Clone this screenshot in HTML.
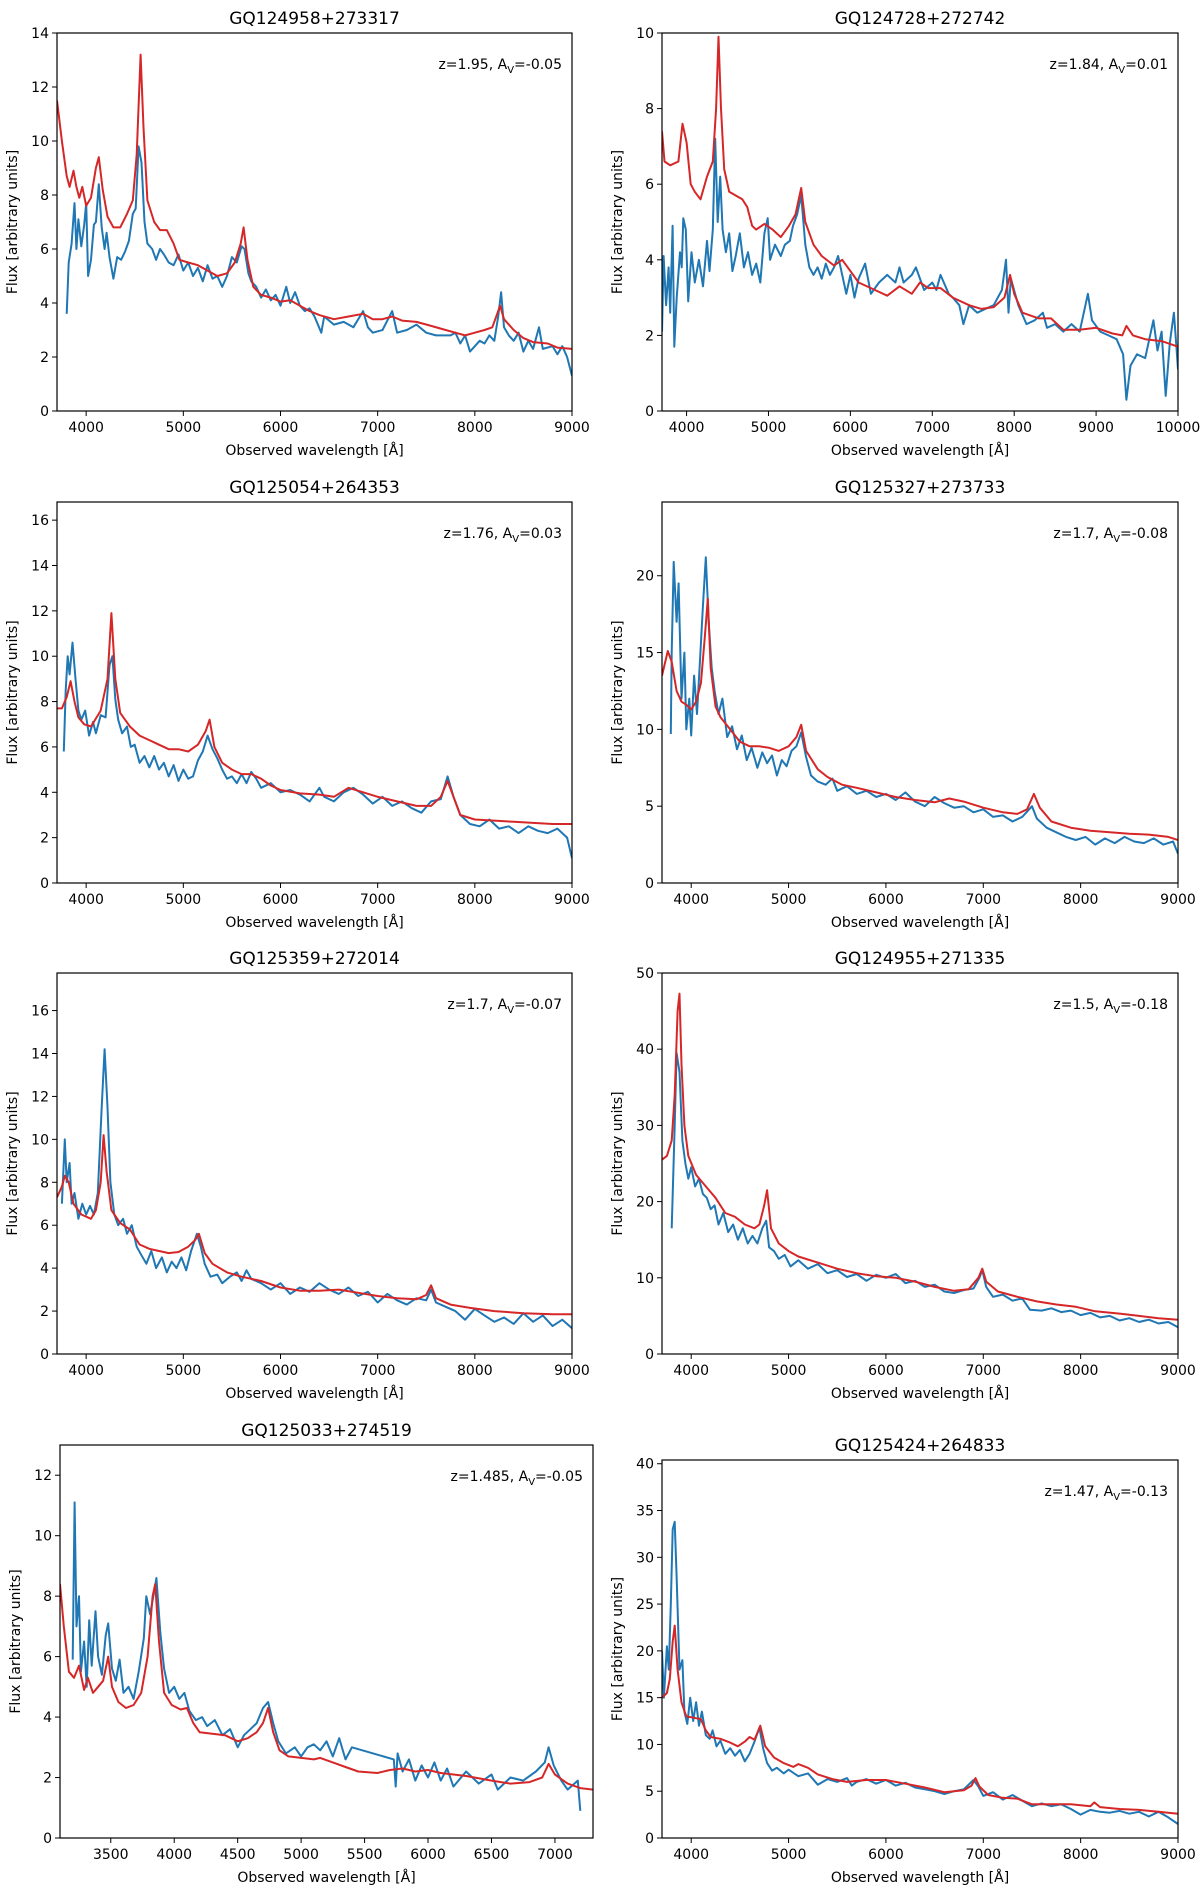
<!DOCTYPE html>
<html><head><meta charset="utf-8"><title>Quasar spectra</title>
<style>
html,body{margin:0;padding:0;background:#fff;}
svg{display:block;font-family:"DejaVu Sans","Liberation Sans",sans-serif;}
</style></head>
<body>
<svg id="fig" width="1200" height="1895" viewBox="0 0 1200 1895" xmlns="http://www.w3.org/2000/svg"></svg>
<script>
// ---- data (wavelength, flux) ----
const p1Blue=[[3800,3.6],[3820,5.5],[3850,6.2],[3880,7.7],[3900,6.0],[3920,7.1],[3950,6.1],[3980,6.9],[4000,7.7],[4020,5.0],[4050,5.6],[4080,6.9],[4100,7.0],[4130,8.4],[4160,6.8],[4190,6.0],[4210,6.6],[4240,5.7],[4280,4.9],[4320,5.7],[4360,5.6],[4400,5.9],[4440,6.3],[4480,7.3],[4510,7.5],[4540,9.8],[4570,9.2],[4600,7.0],[4630,6.2],[4680,6.0],[4720,5.6],[4760,6.0],[4800,5.8],[4850,5.5],[4900,5.4],[4950,5.8],[5000,5.2],[5050,5.5],[5100,5.0],[5150,5.3],[5200,4.8],[5250,5.4],[5300,4.9],[5350,5.0],[5400,4.6],[5450,5.0],[5500,5.7],[5550,5.5],[5600,6.1],[5630,6.0],[5670,5.1],[5700,4.8],[5750,4.6],[5800,4.2],[5850,4.5],[5900,4.1],[5950,4.3],[6000,3.9],[6060,4.6],[6100,4.0],[6150,4.4],[6200,3.9],[6250,3.7],[6300,3.8],[6350,3.5],[6420,2.9],[6450,3.5],[6550,3.2],[6650,3.3],[6750,3.1],[6850,3.7],[6900,3.1],[6950,2.9],[7050,3.0],[7150,3.7],[7200,2.9],[7300,3.0],[7400,3.2],[7500,2.9],[7600,2.8],[7750,2.8],[7800,2.9],[7850,2.5],[7900,2.8],[7950,2.2],[8050,2.6],[8100,2.5],[8150,2.8],[8200,2.6],[8240,3.5],[8270,4.4],[8300,3.1],[8350,2.8],[8400,2.6],[8450,2.9],[8500,2.2],[8550,2.6],[8600,2.3],[8660,3.1],[8700,2.3],[8800,2.4],[8850,2.1],[8900,2.4],[8950,2.0],[9000,1.3]];
const p1Red=[[3700,11.5],[3750,10],[3800,8.7],[3830,8.3],[3870,8.9],[3900,8.3],[3930,7.9],[3960,8.3],[4000,7.6],[4050,7.9],[4100,9.0],[4130,9.4],[4170,8.2],[4220,7.2],[4280,6.8],[4350,6.8],[4420,7.3],[4480,7.8],[4520,9.5],[4560,13.2],[4590,10.5],[4630,7.8],[4700,7.0],[4760,6.7],[4830,6.7],[4900,6.2],[4960,5.6],[5050,5.5],[5150,5.4],[5250,5.2],[5350,5.0],[5450,5.1],[5530,5.5],[5590,6.2],[5620,6.8],[5660,5.6],[5720,4.6],[5800,4.3],[5900,4.2],[6000,4.05],[6100,4.1],[6200,3.9],[6300,3.7],[6400,3.55],[6550,3.4],[6700,3.5],[6850,3.6],[6950,3.4],[7050,3.4],[7150,3.5],[7250,3.35],[7400,3.3],[7550,3.15],[7700,3.0],[7800,2.9],[7900,2.8],[8000,2.9],[8100,3.0],[8180,3.1],[8230,3.6],[8260,3.9],[8300,3.4],[8400,3.0],[8500,2.7],[8600,2.55],[8750,2.5],[8850,2.35],[9000,2.3]];
const p2Blue=[[3700,2.1],[3720,4.1],[3750,2.8],[3780,3.8],[3800,2.6],[3830,4.9],[3850,1.7],[3880,3.0],[3920,4.2],[3940,3.8],[3960,5.1],[3990,4.8],[4020,2.9],[4060,4.2],[4100,3.4],[4150,4.0],[4200,3.3],[4250,4.5],[4280,3.7],[4320,4.8],[4350,7.2],[4380,5.0],[4410,6.2],[4440,4.8],[4480,4.2],[4520,4.7],[4560,3.7],[4600,4.1],[4650,4.7],[4700,3.8],[4750,4.2],[4800,3.6],[4850,3.9],[4900,3.4],[4950,4.7],[4990,5.1],[5020,4.0],[5080,4.4],[5150,4.1],[5200,4.4],[5260,4.5],[5300,4.9],[5350,5.2],[5400,5.7],[5450,4.4],[5500,3.8],[5550,3.6],[5600,3.8],[5650,3.5],[5700,3.9],[5750,3.6],[5800,3.8],[5850,4.1],[5900,3.6],[5950,3.1],[6000,3.6],[6050,3.0],[6100,3.5],[6180,3.9],[6250,3.1],[6350,3.4],[6450,3.6],[6550,3.4],[6600,3.8],[6650,3.4],[6750,3.6],[6800,3.8],[6900,3.2],[7000,3.4],[7050,3.2],[7100,3.6],[7200,3.1],[7250,3.0],[7330,2.8],[7380,2.3],[7450,2.8],[7550,2.6],[7650,2.7],[7750,2.8],[7850,3.2],[7900,4.0],[7930,2.6],[7960,3.5],[8050,2.8],[8150,2.3],[8250,2.4],[8350,2.6],[8400,2.2],[8500,2.3],[8600,2.1],[8700,2.3],[8800,2.1],[8850,2.6],[8900,3.1],[8950,2.4],[9050,2.1],[9150,2.0],[9250,1.9],[9330,1.5],[9370,0.3],[9420,1.2],[9500,1.5],[9600,1.4],[9700,2.4],[9750,1.6],[9800,2.1],[9850,0.4],[9900,1.8],[9950,2.6],[9980,1.7],[10000,1.1]];
const p2Red=[[3700,7.4],[3730,6.6],[3800,6.5],[3900,6.6],[3950,7.6],[4000,7.1],[4050,6.0],[4100,5.8],[4170,5.6],[4250,6.2],[4320,6.6],[4360,8.0],[4390,9.9],[4420,8.0],[4460,6.4],[4520,5.8],[4600,5.7],[4680,5.6],[4740,5.4],[4800,4.9],[4850,4.8],[4950,4.95],[5050,4.8],[5150,4.6],[5250,4.9],[5330,5.2],[5400,5.9],[5450,5.0],[5550,4.4],[5650,4.1],[5800,3.85],[5900,4.0],[6000,3.7],[6100,3.4],[6300,3.2],[6450,3.05],[6600,3.3],[6750,3.1],[6850,3.4],[6950,3.25],[7100,3.25],[7250,3.0],[7450,2.8],[7600,2.7],[7750,2.75],[7880,3.0],[7950,3.6],[8000,3.1],[8100,2.6],[8300,2.45],[8450,2.45],[8600,2.15],[8800,2.15],[9000,2.2],[9200,2.05],[9320,2.0],[9370,2.25],[9450,2.0],[9600,1.9],[9800,1.85],[10000,1.7]];
const p3Blue=[[3770,5.8],[3790,8.5],[3810,10.0],[3830,9.2],[3860,10.6],[3890,9.0],[3920,7.6],[3950,7.2],[3990,7.6],[4030,6.5],[4070,7.1],[4100,6.6],[4150,7.4],[4200,7.3],[4240,9.6],[4270,10.0],[4300,8.1],[4330,7.2],[4370,6.6],[4420,6.9],[4460,6.0],[4500,6.1],[4550,5.3],[4600,5.6],[4650,5.1],[4700,5.6],[4750,5.0],[4800,5.3],[4850,4.7],[4900,5.2],[4950,4.5],[5000,5.0],[5050,4.6],[5100,4.7],[5150,5.4],[5200,5.8],[5250,6.5],[5300,5.9],[5350,5.5],[5400,5.0],[5450,4.6],[5500,4.7],[5550,4.4],[5600,4.8],[5650,4.4],[5700,4.9],[5750,4.6],[5800,4.2],[5900,4.4],[6000,4.0],[6100,4.1],[6200,3.9],[6300,3.6],[6400,4.2],[6450,3.8],[6550,3.6],[6650,4.0],[6750,4.2],[6850,3.9],[6950,3.5],[7050,3.8],[7150,3.4],[7250,3.6],[7350,3.3],[7450,3.1],[7550,3.6],[7650,3.7],[7720,4.7],[7780,3.8],[7850,3.0],[7950,2.6],[8050,2.5],[8150,2.8],[8250,2.4],[8350,2.5],[8450,2.2],[8550,2.5],[8650,2.3],[8750,2.2],[8850,2.4],[8950,2.0],[9000,1.1]];
const p3Red=[[3700,7.7],[3750,7.7],[3800,8.2],[3840,8.9],[3880,8.0],[3920,7.3],[3980,7.0],[4050,6.9],[4150,7.6],[4220,9.0],[4260,11.9],[4300,9.0],[4350,7.5],[4450,6.9],[4550,6.5],[4650,6.3],[4750,6.1],[4850,5.9],[4950,5.9],[5050,5.8],[5150,6.1],[5230,6.7],[5270,7.2],[5320,6.0],[5400,5.3],[5500,5.0],[5600,4.8],[5700,4.8],[5800,4.6],[5900,4.3],[6000,4.1],[6200,3.95],[6400,3.9],[6550,3.8],[6700,4.2],[6850,4.0],[7000,3.8],[7200,3.6],[7400,3.4],[7550,3.4],[7650,3.8],[7720,4.5],[7780,3.8],[7850,3.0],[8000,2.8],[8200,2.75],[8400,2.7],[8600,2.65],[8800,2.6],[9000,2.6]];
const p4Blue=[[3790,9.7],[3800,15.0],[3820,20.9],[3850,17.0],[3870,19.5],[3900,12.0],[3930,15.0],[3950,10.0],[3980,12.0],[4000,9.6],[4030,13.5],[4060,11.0],[4090,14.5],[4120,18.0],[4150,21.2],[4180,17.0],[4210,14.0],[4240,12.5],[4280,11.0],[4320,12.0],[4370,9.5],[4420,10.2],[4470,8.7],[4520,9.6],[4570,8.0],[4620,8.8],[4680,7.5],[4730,8.5],[4780,7.8],[4830,8.3],[4880,7.0],[4930,8.0],[4980,7.6],[5030,8.6],[5080,8.9],[5130,9.8],[5180,8.2],[5230,7.0],[5300,6.6],[5380,6.4],[5450,6.8],[5500,6.0],[5600,6.3],[5700,5.8],[5800,6.0],[5900,5.6],[6000,5.8],[6100,5.4],[6200,5.9],[6300,5.3],[6400,5.0],[6500,5.6],[6600,5.2],[6700,4.9],[6800,5.0],[6900,4.6],[7000,4.8],[7100,4.3],[7200,4.4],[7300,4.0],[7400,4.3],[7500,5.0],[7550,4.2],[7650,3.6],[7750,3.3],[7850,3.0],[7950,2.8],[8050,3.0],[8150,2.5],[8250,2.9],[8350,2.6],[8450,3.0],[8550,2.7],[8650,2.6],[8750,2.9],[8850,2.5],[8950,2.7],[9000,1.9]];
const p4Red=[[3700,13.5],[3760,15.1],[3800,14.4],[3850,12.5],[3900,11.8],[3950,11.6],[4000,11.3],[4050,11.8],[4100,13.0],[4140,16.0],[4170,18.5],[4200,14.0],[4250,11.5],[4300,10.8],[4400,10.0],[4500,9.2],[4600,8.9],[4700,8.9],[4800,8.8],[4900,8.6],[5000,8.9],[5080,9.5],[5130,10.3],[5180,8.6],[5300,7.4],[5400,6.9],[5550,6.4],[5700,6.2],[5900,5.9],[6100,5.6],[6300,5.4],[6500,5.25],[6650,5.5],[6800,5.3],[7000,4.9],[7200,4.6],[7350,4.5],[7450,4.8],[7520,5.8],[7580,4.9],[7700,4.0],[7900,3.6],[8100,3.4],[8300,3.3],[8500,3.2],[8700,3.15],[8900,3.0],[9000,2.8]];
const p5Blue=[[3750,7.0],[3780,10.0],[3800,8.0],[3830,8.9],[3850,7.0],[3880,7.5],[3920,6.3],[3960,7.0],[4000,6.5],[4040,6.9],[4080,6.5],[4120,7.5],[4160,11.5],[4190,14.2],[4220,11.5],[4250,8.0],[4290,6.5],[4330,6.0],[4380,6.3],[4420,5.6],[4470,6.0],[4520,5.0],[4570,4.6],[4620,4.2],[4670,4.8],[4720,4.0],[4780,4.5],[4830,3.8],[4880,4.3],[4930,4.0],[4980,4.5],[5030,3.9],[5080,4.8],[5140,5.6],[5180,5.0],[5220,4.2],[5280,3.6],[5350,3.7],[5400,3.3],[5480,3.6],[5550,3.8],[5600,3.4],[5650,3.9],[5700,3.5],[5800,3.3],[5900,3.0],[6000,3.3],[6100,2.8],[6200,3.1],[6300,2.9],[6400,3.3],[6500,3.0],[6600,2.8],[6700,3.1],[6800,2.7],[6900,2.9],[7000,2.4],[7100,2.8],[7200,2.5],[7300,2.3],[7400,2.6],[7500,2.5],[7550,3.0],[7600,2.4],[7700,2.2],[7800,2.0],[7900,1.6],[8000,2.1],[8100,1.8],[8200,1.5],[8300,1.7],[8400,1.4],[8500,1.9],[8600,1.5],[8700,1.8],[8800,1.3],[8900,1.6],[9000,1.2]];
const p5Red=[[3700,7.3],[3750,7.8],[3780,8.3],[3820,8.0],[3870,7.0],[3950,6.5],[4050,6.3],[4100,6.7],[4150,8.0],[4180,10.2],[4210,8.5],[4260,6.7],[4350,6.1],[4450,5.8],[4550,5.1],[4650,4.9],[4750,4.8],[4850,4.7],[4950,4.75],[5050,5.0],[5120,5.3],[5160,5.6],[5220,4.7],[5300,4.2],[5450,3.8],[5600,3.6],[5800,3.4],[6000,3.1],[6200,2.95],[6400,2.95],[6600,3.0],[6800,2.85],[7000,2.7],[7200,2.6],[7400,2.55],[7500,2.75],[7550,3.2],[7600,2.6],[7750,2.3],[7950,2.15],[8200,2.0],[8500,1.9],[8800,1.85],[9000,1.85]];
const p6Blue=[[3800,16.5],[3830,30],[3850,39.5],[3880,37],[3910,28],[3940,25],[3970,23],[4000,24.5],[4040,22],[4080,23],[4120,21],[4160,20.5],[4200,19],[4240,19.5],[4280,17],[4330,18.5],[4380,16],[4430,17],[4480,15],[4530,16.5],[4580,14.5],[4630,15.5],[4680,14.5],[4730,16.5],[4770,17.5],[4800,14],[4850,13.5],[4900,12.5],[4960,13],[5020,11.5],[5100,12.3],[5200,11.2],[5300,11.8],[5400,10.6],[5500,11.0],[5600,10.1],[5700,10.5],[5800,9.6],[5900,10.4],[6000,10.0],[6100,10.5],[6200,9.3],[6300,9.6],[6400,8.8],[6500,9.1],[6600,8.2],[6700,8.0],[6800,8.4],[6900,8.6],[6960,10.0],[6990,11.0],[7030,8.8],[7100,7.5],[7200,7.8],[7300,7.0],[7400,7.3],[7480,5.8],[7600,5.7],[7700,6.0],[7800,5.5],[7900,5.7],[8000,5.1],[8100,5.4],[8200,4.8],[8300,5.0],[8400,4.4],[8500,4.7],[8600,4.2],[8700,4.5],[8800,4.0],[8900,4.2],[9000,3.5]];
const p6Red=[[3700,25.5],[3750,26],[3800,28],[3830,34],[3860,45],[3880,47.3],[3900,38],[3930,30],[3970,26],[4050,23.5],[4150,22],[4250,20.5],[4350,18.5],[4450,18],[4550,17],[4650,16.5],[4700,17],[4750,19.5],[4780,21.5],[4820,16.5],[4900,14.5],[5000,13.5],[5100,12.8],[5300,12.0],[5500,11.2],[5700,10.6],[5900,10.2],[6100,10.0],[6300,9.5],[6500,8.8],[6700,8.3],[6850,8.5],[6950,10.0],[6990,11.2],[7030,9.5],[7150,8.2],[7350,7.5],[7550,6.9],[7750,6.5],[7950,6.2],[8150,5.6],[8400,5.3],[8600,5.0],[8800,4.7],[9000,4.5]];
const p7Blue=[[3200,5.9],[3215,11.1],[3230,7.0],[3250,8.0],[3265,5.5],[3290,6.5],[3310,5.0],[3330,7.2],[3350,5.7],[3380,7.5],[3400,6.0],[3430,5.4],[3460,6.7],[3480,7.1],[3510,5.6],[3540,5.2],[3570,5.9],[3600,4.8],[3640,5.0],[3680,4.6],[3720,5.5],[3760,6.6],[3780,8.0],[3810,7.4],[3840,8.1],[3860,8.6],[3890,6.8],[3920,5.6],[3960,4.8],[4000,5.0],[4040,4.6],[4080,4.8],[4120,4.2],[4170,3.9],[4220,4.0],[4260,3.7],[4320,3.9],[4380,3.4],[4440,3.6],[4500,3.0],[4550,3.4],[4600,3.6],[4650,3.8],[4700,4.3],[4740,4.5],[4780,3.8],[4820,3.2],[4880,2.8],[4950,3.0],[5000,2.7],[5050,3.0],[5100,3.1],[5150,2.9],[5200,3.2],[5250,2.7],[5300,3.3],[5350,2.6],[5400,3.0],[5730,2.6],[5745,1.7],[5760,2.8],[5800,2.2],[5850,2.6],[5900,1.9],[5950,2.4],[6000,2.0],[6050,2.5],[6100,1.9],[6150,2.3],[6200,1.7],[6300,2.2],[6400,1.8],[6500,2.1],[6550,1.6],[6650,2.0],[6750,1.9],[6850,2.2],[6920,2.5],[6950,3.0],[6990,2.4],[7050,1.9],[7100,1.6],[7180,1.9],[7200,0.9]];
const p7Red=[[3100,8.4],[3130,7.0],[3170,5.5],[3210,5.3],[3250,5.7],[3290,4.9],[3320,5.3],[3360,4.8],[3400,5.0],[3440,5.2],[3480,6.0],[3510,5.0],[3560,4.5],[3620,4.3],[3680,4.4],[3740,4.8],[3790,6.0],[3830,8.0],[3850,8.4],[3880,6.5],[3920,4.8],[3980,4.4],[4050,4.25],[4100,4.3],[4150,3.8],[4200,3.5],[4300,3.45],[4400,3.4],[4500,3.2],[4580,3.3],[4650,3.5],[4700,3.8],[4740,4.3],[4780,3.5],[4830,2.9],[4900,2.7],[5000,2.65],[5100,2.6],[5150,2.65],[5250,2.5],[5350,2.35],[5450,2.2],[5600,2.15],[5700,2.25],[5800,2.3],[5900,2.2],[6000,2.25],[6100,2.15],[6300,2.05],[6500,1.9],[6650,1.8],[6800,1.85],[6900,2.0],[6950,2.45],[7000,2.1],[7100,1.8],[7200,1.65],[7300,1.6]];
const p8Blue=[[3700,20],[3720,15],[3750,20.5],[3770,18],[3790,25],[3810,33],[3830,33.8],[3850,28],[3880,18],[3910,19],[3930,13.5],[3960,12.2],[3990,15],[4020,12.5],[4050,14.5],[4080,12.0],[4110,13.5],[4150,11.0],[4190,10.6],[4220,11.5],[4260,9.8],[4300,10.4],[4350,9.0],[4400,9.6],[4450,8.8],[4500,9.4],[4550,8.2],[4600,9.0],[4650,10.3],[4700,11.8],[4740,9.5],[4780,8.0],[4830,7.2],[4880,7.5],[4950,6.9],[5000,7.3],[5100,6.6],[5200,6.9],[5300,5.7],[5400,6.3],[5500,6.0],[5600,6.4],[5650,5.6],[5700,6.0],[5800,6.3],[5900,5.8],[6000,6.2],[6100,5.6],[6200,5.9],[6300,5.4],[6400,5.2],[6500,5.0],[6600,4.7],[6700,5.0],[6800,5.2],[6900,6.2],[6950,5.5],[7000,4.5],[7100,4.9],[7200,4.1],[7300,4.6],[7400,4.0],[7500,3.4],[7600,3.7],[7700,3.4],[7800,3.6],[7900,3.1],[8000,2.5],[8100,3.0],[8200,2.8],[8300,2.7],[8400,2.9],[8500,2.6],[8600,2.8],[8700,2.3],[8800,2.8],[8900,2.2],[9000,1.5]];
const p8Red=[[3700,15],[3750,15.5],[3780,17],[3810,21],[3830,22.7],[3860,18],[3900,14.5],[3950,13.0],[4050,12.8],[4100,12.7],[4150,11.5],[4200,10.8],[4300,10.6],[4400,10.2],[4480,9.8],[4550,10.3],[4600,10.8],[4650,10.5],[4710,12.0],[4760,9.8],[4850,8.6],[4950,8.0],[5050,7.6],[5100,7.9],[5200,7.5],[5300,6.8],[5450,6.3],[5600,6.0],[5800,6.2],[6000,6.2],[6200,5.8],[6400,5.4],[6600,4.9],[6800,5.1],[6880,5.6],[6920,6.4],[6960,5.5],[7050,4.6],[7200,4.3],[7350,4.2],[7500,3.6],[7700,3.6],[7900,3.6],[8100,3.4],[8140,3.8],[8200,3.3],[8400,3.1],[8600,3.0],[8800,2.8],[9000,2.6]];

const titles=["GQ124958+273317","GQ124728+272742","GQ125054+264353","GQ125327+273733","GQ125359+272014","GQ124955+271335","GQ125033+274519","GQ125424+264833"];
const zVals=["1.95","1.84","1.76","1.7","1.7","1.5","1.485","1.47"];
const avVals=["-0.05","0.01","0.03","-0.08","-0.07","-0.18","-0.05","-0.13"];
const xMins=[3700,3700,3700,3700,3700,3700,3100,3700];
const xMaxs=[9000,10000,9000,9000,9000,9000,7300,9000];
const yMaxs=[14,10,16.8,24.8,17.75,50,13,40.4];
const xTicks=[[4000,5000,6000,7000,8000,9000],[4000,5000,6000,7000,8000,9000,10000],[4000,5000,6000,7000,8000,9000],[4000,5000,6000,7000,8000,9000],[4000,5000,6000,7000,8000,9000],[4000,5000,6000,7000,8000,9000],[3500,4000,4500,5000,5500,6000,6500,7000],[4000,5000,6000,7000,8000,9000]];
const yTicks=[[0,2,4,6,8,10,12,14],[0,2,4,6,8,10],[0,2,4,6,8,10,12,14,16],[0,5,10,15,20],[0,2,4,6,8,10,12,14,16],[0,10,20,30,40,50],[0,2,4,6,8,10,12],[0,5,10,15,20,25,30,35,40]];
const blues=[p1Blue,p2Blue,p3Blue,p4Blue,p5Blue,p6Blue,p7Blue,p8Blue];
const reds=[p1Red,p2Red,p3Red,p4Red,p5Red,p6Red,p7Red,p8Red];

// ---- layout ----
const boxes=[[57,33,572,411],[662,33,1178,411],[57,502,572,883],[662,502,1178,883],[57,973,572,1354],[662,973,1178,1354],[60,1445,593,1838],[662,1460,1178,1838]];
const NS="http://www.w3.org/2000/svg";
const fig=document.getElementById('fig');
function mk(tag,attrs,parent){const e=document.createElementNS(NS,tag);for(const k in attrs)e.setAttribute(k,attrs[k]);parent.appendChild(e);return e;}

for(let i=0;i<8;i++){
  const [L,T,R,B]=boxes[i];
  const xs=v=>L+(v-xMins[i])/(xMaxs[i]-xMins[i])*(R-L);
  const ys=v=>B-v/yMaxs[i]*(B-T);
  const g=mk('g',{},fig);
  
  
  const cid='clip'+i;
  const cp=mk('clipPath',{id:cid},g);
  mk('rect',{x:L,y:T,width:R-L,height:B-T},cp);
  const t=mk('text',{x:(L+R)/2,y:T-9,'text-anchor':'middle','font-size':'17'},g);
  t.textContent=titles[i];
  
  
  function path(data,color,name){
    const d=data.map((p,k)=>(k?'L':'M')+xs(p[0]).toFixed(1)+','+ys(p[1]).toFixed(1)).join('');
    const pe=mk('path',{d:d,fill:'none',stroke:color,'stroke-width':'2','stroke-linejoin':'round','clip-path':'url(#'+cid+')'},g);
    
    
  }
  path(blues[i],'#1f77b4','observed-spectrum');
  path(reds[i],'#d62728','model-spectrum');
  const fr=mk('rect',{x:L,y:T,width:R-L,height:B-T,fill:'none',stroke:'#000','stroke-width':'1.2'},g);
  
  
  xTicks[i].forEach(v=>{
    const x=xs(v);
    mk('line',{x1:x,y1:B,x2:x,y2:B+5,stroke:'#000','stroke-width':'1'},g);
    const tl=mk('text',{x:x,y:B+21,'text-anchor':'middle','font-size':'14'},g);
    tl.textContent=v;
    
    
  });
  yTicks[i].forEach(v=>{
    const y=ys(v);
    mk('line',{x1:L-5,y1:y,x2:L,y2:y,stroke:'#000','stroke-width':'1'},g);
    const tl=mk('text',{x:L-8,y:y+5,'text-anchor':'end','font-size':'14'},g);
    tl.textContent=v;
    
    
  });
  const xl=mk('text',{x:(L+R)/2,y:B+44,'text-anchor':'middle','font-size':'14'},g);
  xl.textContent='Observed wavelength [Å]';
  
  
  const cy=(T+B)/2, cx=L-40;
  const yl=mk('text',{x:cx,y:cy,'text-anchor':'middle','font-size':'14',transform:'rotate(-90 '+cx+' '+cy+')'},g);
  yl.textContent='Flux [arbitrary units]';
  
  
  const an=mk('text',{x:R-10,y:T+36,'text-anchor':'end','font-size':'14'},g);
  
  
  const s1=mk('tspan',{},an); s1.textContent='z='+zVals[i]+', A';
  const s2=mk('tspan',{'font-size':'10',dy:'4'},an); s2.textContent='V';
  const s3=mk('tspan',{dy:'-4'},an); s3.textContent='='+avVals[i];
}
</script>
</body></html>
